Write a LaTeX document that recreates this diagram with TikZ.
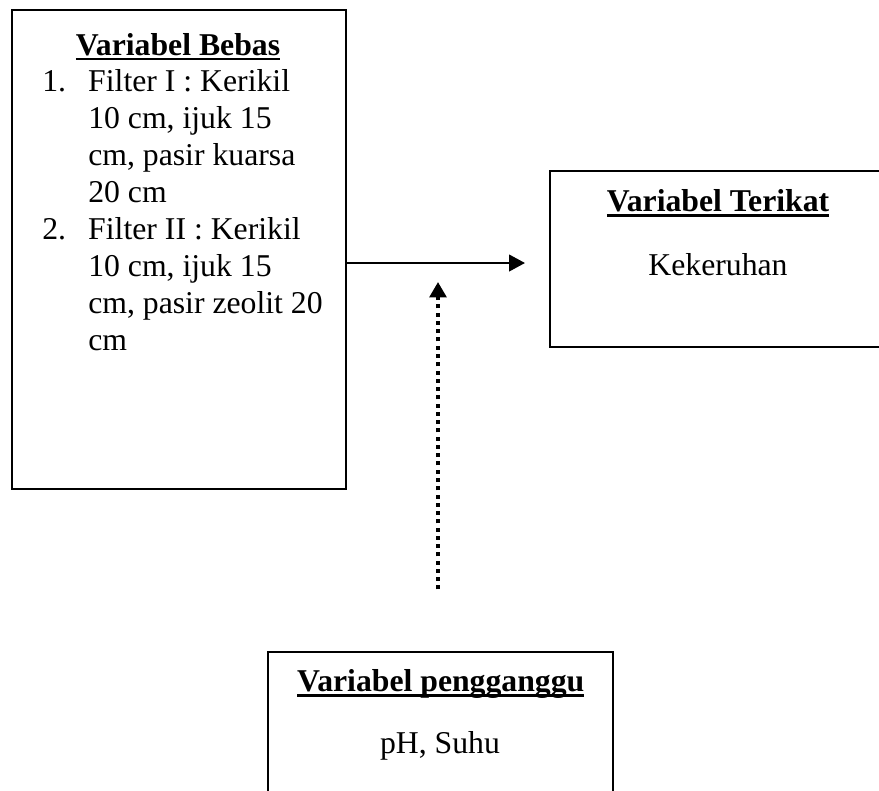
\documentclass[tikz,border=0pt]{standalone}
\usepackage{fontspec}
\setmainfont{Liberation Serif}
\usetikzlibrary{arrows.meta, positioning, calc}

\newcommand{\bodysize}{\fontsize{23.8pt}{27.75pt}\selectfont}
\newcommand{\varunderline}[1]{\setbox0\hbox{#1}\rlap{\rule[-3.9pt]{\wd0}{2pt}}\box0}

\tikzset{
	varbox/.style={draw, line width=0.8pt, inner sep=0pt},
	boxtitle/.style={anchor=base, inner sep=0pt, font=\bodysize\bfseries},
	boxtext/.style={anchor=base, inner sep=0pt},
	mainarrow/.style={-{Triangle[length=12pt, width=12.5pt]}, line width=1.7pt},
	dotarrow/.style={-{Triangle[length=11.5pt, width=12.5pt]}, line width=2.7pt, dash pattern=on 3pt off 3.2pt}
}

\begin{document}
\begin{tikzpicture}[x=0.75pt, y=-0.75pt, font=\bodysize]
	\useasboundingbox (0,0) rectangle (879,790);
	\clip (0,0) rectangle (879,790);

	% Boxes
	\node[varbox, minimum width=250.5pt, minimum height=359.25pt] (bebas) at (179,249.5) {};
	\node[varbox, minimum width=252pt, minimum height=132pt] (terikat) at (718,259) {};
	\node[varbox, minimum width=258.75pt, minimum height=150pt] (pengganggu) at (440.5,752) {};

	% Variabel Bebas
	\node[boxtitle] (bebastitle) at (178,55) {\varunderline{Variabel Bebas}};
	\node[anchor=base west, inner sep=0pt] (bebaslist) at (42,91.7) {%
		\begin{tabular}[t]{@{}p{34.5pt}@{}l@{}}
			1. & Filter I : Kerikil\\
			   & 10 cm, ijuk 15\\
			   & cm, pasir kuarsa\\
			   & 20 cm\\
			2. & Filter II : Kerikil\\
			   & 10 cm, ijuk 15\\
			   & cm, pasir zeolit 20\\
			   & cm
		\end{tabular}};

	% Variabel Terikat
	\node[boxtitle] (terikattitle) at (718,211.7) {\varunderline{Variabel Terikat}};
	\node[boxtext] (terikattext) at (718,275) {Kekeruhan};

	% Variabel pengganggu
	\node[boxtitle] (pengganggutitle) at (440.8,691.7) {\varunderline{Variabel pengganggu}};
	\node[boxtext] (pengganggutext) at (440,753.3) {pH, Suhu};

	% Arrows
	\coordinate (hend) at (525,263);
	\coordinate (dtop) at (438,282);
	\draw[mainarrow] (bebas.east |- hend) -- (hend);
	\draw[dotarrow] (pengganggu.north -| dtop) ++(0,-62) -- (dtop);
\end{tikzpicture}
\end{document}
